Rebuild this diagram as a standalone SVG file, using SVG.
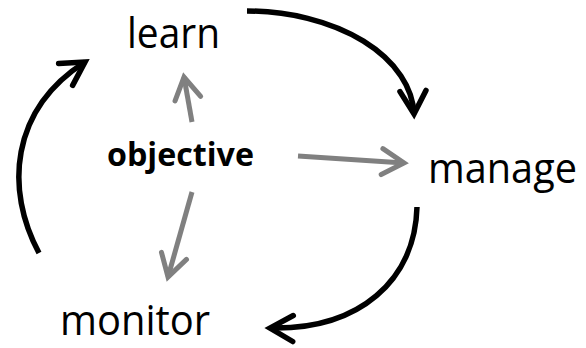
<svg xmlns="http://www.w3.org/2000/svg" width="586" height="348" viewBox="0 0 586 348">
  <defs>
    <style>
      .label { font-family: "Open Sans", "Noto Sans", "Liberation Sans", sans-serif; fill: #000; }
      .main { font-size: 42px; }
      .center { font-size: 32px; font-weight: bold; }
      .cycle { fill: none; stroke: #000; stroke-width: 5.5; stroke-linecap: butt; }
      .feed { fill: none; stroke: #808080; stroke-width: 5; stroke-linecap: butt; }
    </style>
    <marker id="headBlack" markerUnits="userSpaceOnUse" orient="auto" markerWidth="40" markerHeight="40" refX="0" refY="0" viewBox="-30 -20 40 40" overflow="visible">
      <path d="M-23,-13 L0,0 L-23,13" fill="none" stroke="#000" stroke-width="5.5" stroke-linejoin="miter" stroke-linecap="round"/>
    </marker>
    <marker id="headGray" markerUnits="userSpaceOnUse" orient="auto" markerWidth="40" markerHeight="40" refX="0" refY="0" viewBox="-30 -20 40 40" overflow="visible">
      <path d="M-22,-13 L0,0 L-22,13" fill="none" stroke="#808080" stroke-width="5" stroke-linejoin="miter" stroke-linecap="round"/>
    </marker>
  </defs>

  <rect width="586" height="348" fill="#fff"/>

  <g id="connectors">
    <!-- outer cycle: learn -> manage -> monitor -> learn -->
    <path class="cycle" d="M247,11 A168,106 0 0 1 414,114" marker-end="url(#headBlack)"/>
    <path class="cycle" d="M417,207 C415,280 360,330 270,328" marker-end="url(#headBlack)"/>
    <path class="cycle" d="M39,253 C5,190 10,110 85,62" marker-end="url(#headBlack)"/>
    <!-- objective feeds each stage -->
    <path class="feed" d="M192,122 L184,77" marker-end="url(#headGray)"/>
    <path class="feed" d="M298,156 L404,163" marker-end="url(#headGray)"/>
    <path class="feed" d="M192,192 L168,277" marker-end="url(#headGray)"/>
  </g>

  <g id="learn">
    <text class="label main" x="127" y="48" textLength="93" lengthAdjust="spacingAndGlyphs">learn</text>
  </g>
  <g id="manage">
    <text class="label main" x="428" y="183" textLength="149" lengthAdjust="spacingAndGlyphs">manage</text>
  </g>
  <g id="monitor">
    <text class="label main" x="60" y="335" textLength="150" lengthAdjust="spacingAndGlyphs">monitor</text>
  </g>
  <g id="objective">
    <text class="label center" x="107" y="166" textLength="147" lengthAdjust="spacingAndGlyphs">objective</text>
  </g>
</svg>
